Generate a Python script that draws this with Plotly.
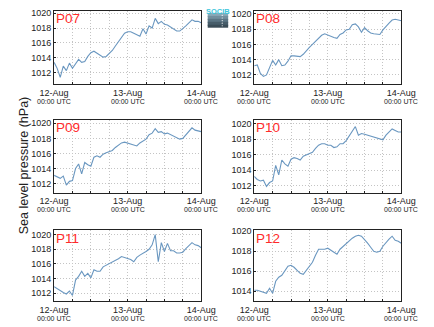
import plotly.graph_objects as go
import pandas as pd

# ---- data (hourly sea level pressure, hPa) ----
hours = list(range(49))
start = pd.Timestamp("2013-08-12 00:00")
times = [start + pd.Timedelta(hours=h) for h in hours]

stations = ["P07", "P08", "P09", "P10", "P11", "P12"]

p07 = [1013.4, 1012.6, 1011.4, 1012.9, 1012.3, 1013.3, 1012.6, 1013.2, 1013.8, 1013.4,
       1013.5, 1014.2, 1014.7, 1014.9, 1014.6, 1014.3, 1014.1, 1014.2, 1014.6, 1015.0,
       1015.6, 1016.2, 1016.8, 1017.3, 1017.5, 1017.5, 1017.3, 1017.1, 1016.9, 1017.9,
       1017.2, 1018.3, 1018.0, 1019.3, 1018.6, 1018.9, 1018.5, 1018.4, 1018.1, 1017.8,
       1017.6, 1017.6, 1017.9, 1018.3, 1018.7, 1019.1, 1018.9, 1018.9, 1018.7]
p08 = [1013.2, 1013.3, 1012.2, 1011.8, 1012.0, 1013.0, 1013.9, 1013.3, 1014.0, 1013.2,
       1013.3, 1013.8, 1014.5, 1014.5, 1014.4, 1014.4, 1014.7, 1015.2, 1015.6, 1016.0,
       1016.4, 1016.9, 1017.2, 1017.4, 1017.2, 1017.1, 1016.9, 1016.8, 1017.3, 1017.5,
       1017.9, 1018.0, 1018.6, 1018.7, 1018.3, 1017.6, 1018.2, 1017.8, 1017.5, 1017.4,
       1017.3, 1017.3, 1017.9, 1018.4, 1018.8, 1019.2, 1019.3, 1019.2, 1019.1]
p09 = [1013.1, 1012.9, 1012.7, 1013.0, 1011.8, 1012.3, 1012.4, 1014.0, 1014.6, 1013.3,
       1014.8, 1014.5, 1014.3, 1015.5, 1015.7, 1015.5, 1015.9, 1016.1, 1016.3, 1016.4,
       1016.8, 1017.1, 1017.4, 1017.5, 1017.4, 1017.2, 1017.1, 1017.0, 1017.4, 1017.6,
       1017.9, 1018.5, 1018.7, 1019.3, 1018.8, 1018.9, 1018.6, 1018.7, 1018.5, 1018.3,
       1018.1, 1017.9, 1018.0, 1018.5, 1018.9, 1019.4, 1019.1, 1019.0, 1018.9]
p10 = [1013.2, 1012.8, 1012.6, 1012.7, 1011.9, 1012.4, 1012.6, 1014.6, 1013.4, 1015.3,
       1014.8, 1014.5, 1015.4, 1015.6, 1015.5, 1015.3, 1015.8, 1016.0, 1016.2, 1016.3,
       1016.8, 1017.2, 1017.4, 1017.4, 1017.2, 1017.2, 1016.9, 1017.0, 1017.4, 1017.4,
       1017.8, 1018.4, 1019.1, 1019.6, 1018.5, 1018.7, 1018.6, 1018.5, 1018.4, 1018.2,
       1018.1, 1018.0, 1017.9, 1018.5, 1018.9, 1019.3, 1019.1, 1018.9, 1018.9]
p11 = [1012.9, 1012.6, 1012.4, 1012.1, 1011.9, 1012.3, 1011.7, 1013.8, 1014.3, 1015.0,
       1014.3, 1014.7, 1014.1, 1015.2, 1015.0, 1015.0, 1015.6, 1015.8, 1016.0, 1016.3,
       1016.5, 1016.7, 1017.0, 1016.9, 1016.8, 1016.6, 1016.3, 1016.9, 1017.2, 1017.4,
       1017.7, 1018.0, 1018.6, 1020.0, 1016.3, 1018.9, 1017.7, 1018.8, 1017.8, 1017.8,
       1017.5, 1017.5, 1017.6, 1018.1, 1018.5, 1018.9, 1018.6, 1018.5, 1018.2]
p12 = [1014.1, 1014.1, 1014.0, 1013.9, 1013.8, 1014.3, 1013.8, 1015.0, 1015.4, 1015.6,
       1016.1, 1016.5, 1016.6, 1016.4, 1016.1, 1015.8, 1015.7, 1016.1, 1016.4, 1016.9,
       1017.6, 1018.2, 1018.2, 1018.2, 1018.3, 1018.1, 1017.9, 1017.7, 1018.2, 1018.5,
       1018.7, 1019.0, 1019.3, 1019.5, 1019.6, 1019.5, 1019.2, 1018.8, 1018.4, 1018.0,
       1017.9, 1018.0, 1018.5, 1018.9, 1019.2, 1019.5, 1019.1, 1019.0, 1018.8]
series = [p07, p08, p09, p10, p11, p12]

y_ranges = [[1010.5, 1020.3], [1010.8, 1020.4], [1010.8, 1020.5],
            [1011.1, 1020.5], [1010.9, 1020.6], [1013.0, 1020.1]]
y_ticks = [[1012, 1014, 1016, 1018, 1020]] * 5 + [[1014, 1016, 1018, 1020]]

day_labels = ["12-Aug", "13-Aug", "14-Aug"]
time_label = "00:00 UTC"

# ---- layout geometry (pixels) ----
W, H = 434, 327
col_px = [(42, 200), (257, 415)]
row_px = [(7, 81), (117, 191), (229, 301)]

line_color = "#6a97c0"
font_family = "Liberation Sans, Arial, sans-serif"

fig = go.Figure()

x_tickvals = [start + pd.Timedelta(hours=6 * k) for k in range(9)]
x_ticktext = [day_labels[k // 4] if k % 4 == 0 else "" for k in range(9)]
day_times = [start + pd.Timedelta(days=d) for d in range(3)]

for i, (name, vals) in enumerate(zip(stations, series)):
    r, c = divmod(i, 2)
    ax = "" if i == 0 else str(i + 1)
    fig.add_trace(go.Scatter(x=times, y=vals, mode="lines",
                             line=dict(color=line_color, width=1.1),
                             xaxis="x" + ax, yaxis="y" + ax, showlegend=False))
    x0, x1 = col_px[c]
    y0, y1 = row_px[r]
    common = dict(showline=True, mirror=True, linecolor="#222", linewidth=1,
                  showgrid=True, gridcolor="#c4c4c4", griddash="1px,2px", gridwidth=1,
                  zeroline=False, ticks="inside", ticklen=2, tickcolor="#222",
                  tickfont=dict(size=9, color="#222", family=font_family))
    fig.layout["xaxis" + ax] = dict(
        domain=[x0 / W, x1 / W], anchor="y" + ax,
        range=[times[0], times[-1]], tickmode="array",
        tickvals=x_tickvals, ticktext=x_ticktext, tickangle=0, **common)
    fig.layout["yaxis" + ax] = dict(
        domain=[1 - y1 / H, 1 - y0 / H], anchor="x" + ax,
        range=y_ranges[i], tickmode="array", tickvals=y_ticks[i],
        ticksuffix=" ", **common)
    fig.add_annotation(text=name, xref="x" + ax + " domain", yref="y" + ax + " domain",
                       x=0.0, y=1.02, xanchor="left", yanchor="top", showarrow=False,
                       font=dict(size=13.5, color="#ff2a2a", family=font_family))
    for dt in day_times:
        fig.add_annotation(text=time_label, xref="x" + ax, yref="paper",
                           x=dt, y=1 - (y1 + 17.5) / H, xanchor="center",
                           yanchor="middle", showarrow=False,
                           font=dict(size=7, color="#222", family=font_family))

fig.add_annotation(text="Sea level pressure (hPa)", xref="paper", yref="paper",
                   x=10 / W, y=1 - 163 / H, textangle=-90, showarrow=False,
                   xanchor="center", yanchor="middle",
                   font=dict(size=12.5, color="#222", family=font_family))

# logo (gradient box + text)
logo_cols = ["#8aa9b8", "#728f9e", "#5b7584", "#475d6a", "#3a4c57"]
band_h = 15 / len(logo_cols)
for k, col in enumerate(logo_cols):
    top = 9 + k * band_h
    bottom = min(top + band_h + 1, 24)
    fig.add_shape(type="rect", xref="paper", yref="paper",
                  x0=207 / W, x1=229 / W, y0=1 - bottom / H, y1=1 - top / H,
                  fillcolor=col, line=dict(width=0), layer="above")
for k in range(5):
    yy = 11 + k * 2.6
    fig.add_shape(type="circle", xref="paper", yref="paper",
                  x0=222 / W, x1=223.2 / W, y0=1 - (yy + 1.2) / H, y1=1 - yy / H,
                  fillcolor="white", line=dict(width=0), layer="above")
fig.add_annotation(text="<b>SOCIB</b>", xref="paper", yref="paper",
                   x=218 / W, y=1 - 1.5 / H, xanchor="center", yanchor="top",
                   showarrow=False, font=dict(size=7.5, color="#3ec6dc", family=font_family))

fig.update_layout(width=W, height=H, margin=dict(l=0, r=0, t=0, b=0),
                  paper_bgcolor="white", plot_bgcolor="white",
                  font=dict(family=font_family))

fig.write_html("out.html")
